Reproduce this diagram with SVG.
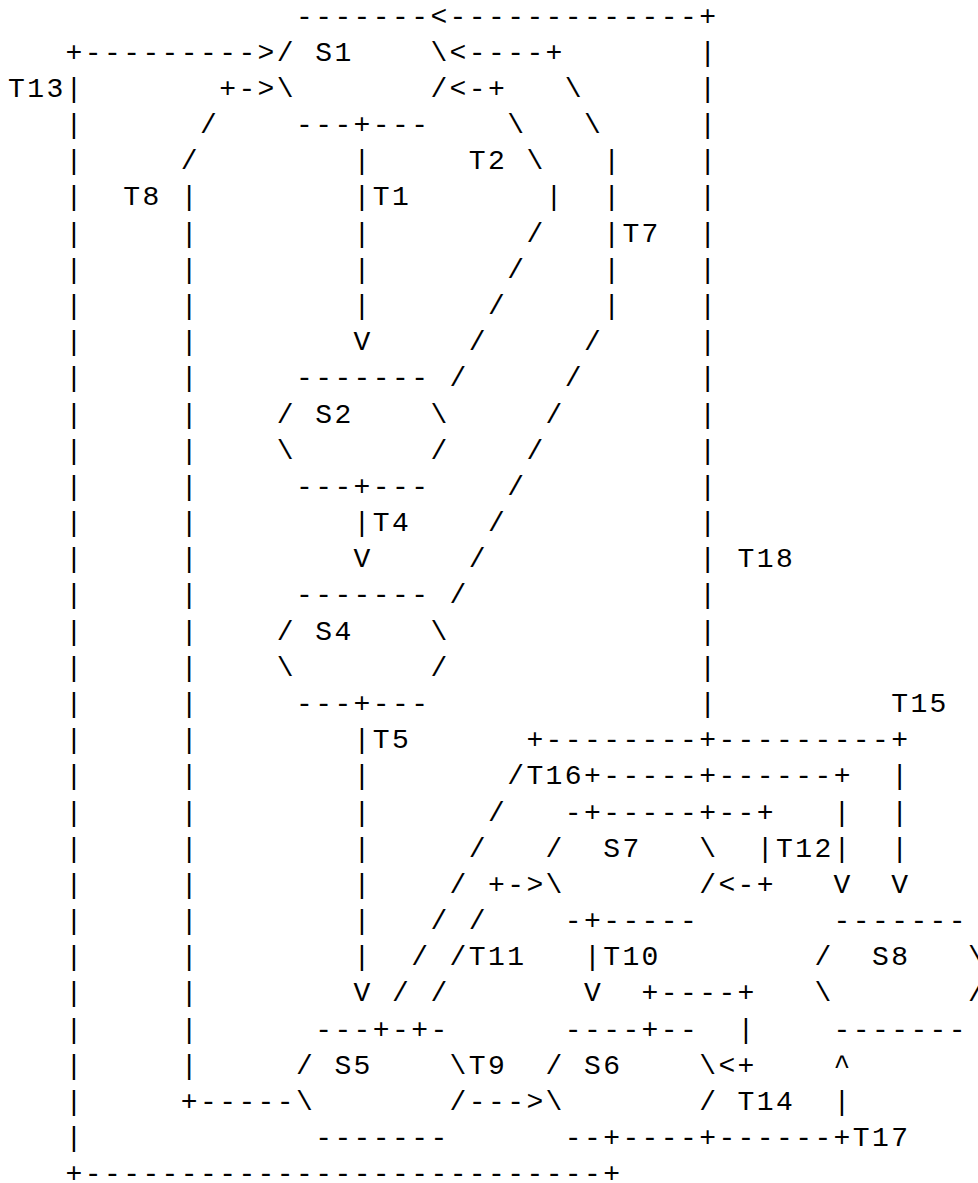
<svg xmlns="http://www.w3.org/2000/svg" width="978" height="1183" viewBox="0 0 978 1183" xml:space="preserve">
<style>
text { font-family: "Liberation Mono", "Courier New", monospace; font-size: 28px; letter-spacing: 2.4px; fill: #000; white-space: pre; }
</style>
<rect x="0" y="0" width="978" height="1183" fill="#fff"/>
<g id="connectors">
<text y="24.5"><tspan x="430.4">&lt;-------------+</tspan></text>
<text y="60.7"><tspan x="65.6">+---------&gt;</tspan><tspan x="449.6">&lt;----+</tspan><tspan x="699.2">|</tspan></text>
<text y="96.9"><tspan x="8">T13|</tspan><tspan x="219.2">+-&gt;</tspan><tspan x="449.6">&lt;-+</tspan><tspan x="564.8">\</tspan><tspan x="699.2">|</tspan></text>
<text y="133"><tspan x="65.6">|</tspan><tspan x="200">/</tspan><tspan x="507.2">\</tspan><tspan x="584">\</tspan><tspan x="699.2">|</tspan></text>
<text y="169.2"><tspan x="65.6">|</tspan><tspan x="180.8">/</tspan><tspan x="353.6">|</tspan><tspan x="468.8">T2</tspan><tspan x="526.4">\</tspan><tspan x="603.2">|</tspan><tspan x="699.2">|</tspan></text>
<text y="205.4"><tspan x="65.6">|</tspan><tspan x="123.2">T8</tspan><tspan x="180.8">|</tspan><tspan x="353.6">|T1</tspan><tspan x="545.6">|</tspan><tspan x="603.2">|</tspan><tspan x="699.2">|</tspan></text>
<text y="241.6"><tspan x="65.6">|</tspan><tspan x="180.8">|</tspan><tspan x="353.6">|</tspan><tspan x="526.4">/</tspan><tspan x="603.2">|T7</tspan><tspan x="699.2">|</tspan></text>
<text y="277.8"><tspan x="65.6">|</tspan><tspan x="180.8">|</tspan><tspan x="353.6">|</tspan><tspan x="507.2">/</tspan><tspan x="603.2">|</tspan><tspan x="699.2">|</tspan></text>
<text y="313.9"><tspan x="65.6">|</tspan><tspan x="180.8">|</tspan><tspan x="353.6">|</tspan><tspan x="488">/</tspan><tspan x="603.2">|</tspan><tspan x="699.2">|</tspan></text>
<text y="350.1"><tspan x="65.6">|</tspan><tspan x="180.8">|</tspan><tspan x="353.6">V</tspan><tspan x="468.8">/</tspan><tspan x="584">/</tspan><tspan x="699.2">|</tspan></text>
<text y="386.3"><tspan x="65.6">|</tspan><tspan x="180.8">|</tspan><tspan x="449.6">/</tspan><tspan x="564.8">/</tspan><tspan x="699.2">|</tspan></text>
<text y="422.5"><tspan x="65.6">|</tspan><tspan x="180.8">|</tspan><tspan x="545.6">/</tspan><tspan x="699.2">|</tspan></text>
<text y="458.7"><tspan x="65.6">|</tspan><tspan x="180.8">|</tspan><tspan x="526.4">/</tspan><tspan x="699.2">|</tspan></text>
<text y="494.8"><tspan x="65.6">|</tspan><tspan x="180.8">|</tspan><tspan x="507.2">/</tspan><tspan x="699.2">|</tspan></text>
<text y="531"><tspan x="65.6">|</tspan><tspan x="180.8">|</tspan><tspan x="353.6">|T4</tspan><tspan x="488">/</tspan><tspan x="699.2">|</tspan></text>
<text y="567.2"><tspan x="65.6">|</tspan><tspan x="180.8">|</tspan><tspan x="353.6">V</tspan><tspan x="468.8">/</tspan><tspan x="699.2">|</tspan><tspan x="737.6">T18</tspan></text>
<text y="603.4"><tspan x="65.6">|</tspan><tspan x="180.8">|</tspan><tspan x="449.6">/</tspan><tspan x="699.2">|</tspan></text>
<text y="639.6"><tspan x="65.6">|</tspan><tspan x="180.8">|</tspan><tspan x="699.2">|</tspan></text>
<text y="675.7"><tspan x="65.6">|</tspan><tspan x="180.8">|</tspan><tspan x="699.2">|</tspan></text>
<text y="711.9"><tspan x="65.6">|</tspan><tspan x="180.8">|</tspan><tspan x="699.2">|</tspan><tspan x="891.2">T15</tspan></text>
<text y="748.1"><tspan x="65.6">|</tspan><tspan x="180.8">|</tspan><tspan x="353.6">|T5</tspan><tspan x="526.4">+--------+---------+</tspan></text>
<text y="784.3"><tspan x="65.6">|</tspan><tspan x="180.8">|</tspan><tspan x="353.6">|</tspan><tspan x="507.2">/T16+-----+------+</tspan><tspan x="891.2">|</tspan></text>
<text y="820.5"><tspan x="65.6">|</tspan><tspan x="180.8">|</tspan><tspan x="353.6">|</tspan><tspan x="488">/</tspan><tspan x="699.2">+--+</tspan><tspan x="833.6">|</tspan><tspan x="891.2">|</tspan></text>
<text y="856.6"><tspan x="65.6">|</tspan><tspan x="180.8">|</tspan><tspan x="353.6">|</tspan><tspan x="468.8">/</tspan><tspan x="756.8">|T12|</tspan><tspan x="891.2">|</tspan></text>
<text y="892.8"><tspan x="65.6">|</tspan><tspan x="180.8">|</tspan><tspan x="353.6">|</tspan><tspan x="449.6">/</tspan><tspan x="488">+-&gt;</tspan><tspan x="718.4">&lt;-+</tspan><tspan x="833.6">V</tspan><tspan x="891.2">V</tspan></text>
<text y="929"><tspan x="65.6">|</tspan><tspan x="180.8">|</tspan><tspan x="353.6">|</tspan><tspan x="430.4">/</tspan><tspan x="468.8">/</tspan></text>
<text y="965.2"><tspan x="65.6">|</tspan><tspan x="180.8">|</tspan><tspan x="353.6">|</tspan><tspan x="411.2">/</tspan><tspan x="449.6">/T11</tspan><tspan x="584">|T10</tspan></text>
<text y="1001.4"><tspan x="65.6">|</tspan><tspan x="180.8">|</tspan><tspan x="353.6">V</tspan><tspan x="392">/</tspan><tspan x="430.4">/</tspan><tspan x="584">V</tspan><tspan x="641.6">+----+</tspan></text>
<text y="1037.5"><tspan x="65.6">|</tspan><tspan x="180.8">|</tspan><tspan x="737.6">|</tspan></text>
<text y="1073.7"><tspan x="65.6">|</tspan><tspan x="180.8">|</tspan><tspan x="468.8">T9</tspan><tspan x="718.4">&lt;+</tspan><tspan x="833.6">^</tspan></text>
<text y="1109.9"><tspan x="65.6">|</tspan><tspan x="180.8">+-----</tspan><tspan x="468.8">---&gt;</tspan><tspan x="737.6">T14</tspan><tspan x="833.6">|</tspan></text>
<text y="1146.1"><tspan x="65.6">|</tspan><tspan x="699.2">+------+T17</tspan></text>
<text y="1182.3"><tspan x="65.6">+---------------------------+</tspan></text>
</g>
<g id="S1">
<text y="24.5"><tspan x="296">-------</tspan></text>
<text y="60.7"><tspan x="276.8">/</tspan><tspan x="315.2">S1</tspan><tspan x="430.4">\</tspan></text>
<text y="96.9"><tspan x="276.8">\</tspan><tspan x="430.4">/</tspan></text>
<text y="133"><tspan x="296">---+---</tspan></text>
</g>
<g id="S2">
<text y="386.3"><tspan x="296">-------</tspan></text>
<text y="422.5"><tspan x="276.8">/</tspan><tspan x="315.2">S2</tspan><tspan x="430.4">\</tspan></text>
<text y="458.7"><tspan x="276.8">\</tspan><tspan x="430.4">/</tspan></text>
<text y="494.8"><tspan x="296">---+---</tspan></text>
</g>
<g id="S4">
<text y="603.4"><tspan x="296">-------</tspan></text>
<text y="639.6"><tspan x="276.8">/</tspan><tspan x="315.2">S4</tspan><tspan x="430.4">\</tspan></text>
<text y="675.7"><tspan x="276.8">\</tspan><tspan x="430.4">/</tspan></text>
<text y="711.9"><tspan x="296">---+---</tspan></text>
</g>
<g id="S5">
<text y="1037.5"><tspan x="315.2">---+-+-</tspan></text>
<text y="1073.7"><tspan x="296">/</tspan><tspan x="334.4">S5</tspan><tspan x="449.6">\</tspan></text>
<text y="1109.9"><tspan x="296">\</tspan><tspan x="449.6">/</tspan></text>
<text y="1146.1"><tspan x="315.2">-------</tspan></text>
</g>
<g id="S6">
<text y="1037.5"><tspan x="564.8">----+--</tspan></text>
<text y="1073.7"><tspan x="545.6">/</tspan><tspan x="584">S6</tspan><tspan x="699.2">\</tspan></text>
<text y="1109.9"><tspan x="545.6">\</tspan><tspan x="699.2">/</tspan></text>
<text y="1146.1"><tspan x="564.8">--+----</tspan></text>
</g>
<g id="S7">
<text y="820.5"><tspan x="564.8">-+-----</tspan></text>
<text y="856.6"><tspan x="545.6">/</tspan><tspan x="603.2">S7</tspan><tspan x="699.2">\</tspan></text>
<text y="892.8"><tspan x="545.6">\</tspan><tspan x="699.2">/</tspan></text>
<text y="929"><tspan x="564.8">-+-----</tspan></text>
</g>
<g id="S8">
<text y="929"><tspan x="833.6">-------</tspan></text>
<text y="965.2"><tspan x="814.4">/</tspan><tspan x="872">S8</tspan><tspan x="968">\</tspan></text>
<text y="1001.4"><tspan x="814.4">\</tspan><tspan x="968">/</tspan></text>
<text y="1037.5"><tspan x="833.6">-------</tspan></text>
</g>
</svg>
